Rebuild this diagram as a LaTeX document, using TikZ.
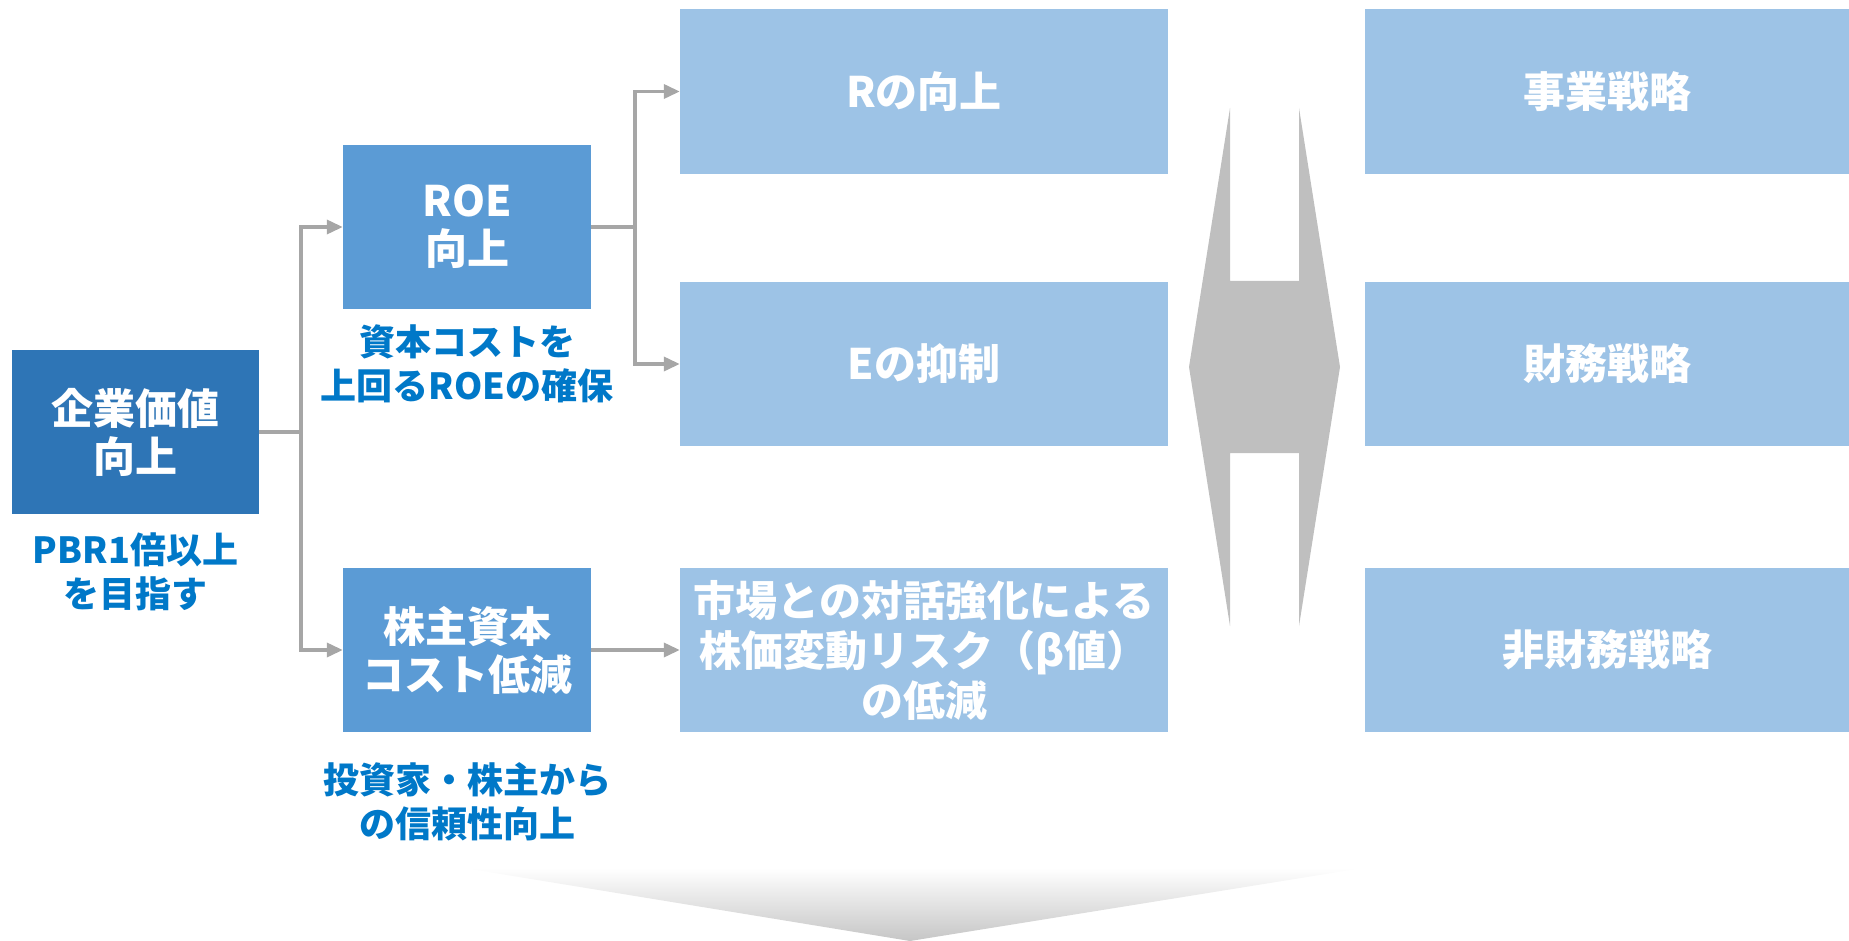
\documentclass[tikz,border=0pt]{standalone}
\usepackage{fontspec}
\setmainfont{Noto Sans CJK JP}
\usepackage{tikz}
\usetikzlibrary{arrows.meta}

\definecolor{topblue}{HTML}{2E75B6}
\definecolor{midblue}{HTML}{5B9BD5}
\definecolor{paleblue}{HTML}{9DC3E6}
\definecolor{notetext}{HTML}{0078C8}
\definecolor{linegray}{HTML}{A6A6A6}
\definecolor{shapegray}{HTML}{BFBFBF}

\begin{document}
\begin{tikzpicture}[x=1pt, y=-1pt,
    box/.style={inner sep=0pt, align=center, text=white,
      font=\bfseries\fontsize{42}{48}\selectfont},
    note/.style={inner sep=0pt, align=center, text=notetext,
      font=\bfseries\fontsize{36}{44}\selectfont},
    conn/.style={draw=linegray, line width=3.5pt},
    tip/.style={-{Triangle[length=16pt, width=14pt]}}]
    \useasboundingbox (0, 0) rectangle (1849, 941);
    % level 0
    \node [box, fill=topblue, minimum width=247pt, minimum height=164pt]  (value) at (135.5, 432) {企業価値\\向上};
    \node [note]  (valuenote) at (135.5, 572) {PBR1倍以上\\を目指す};
    % level 1
    \node [box, fill=midblue, minimum width=248pt, minimum height=164pt]  (roe) at (467, 227) {ROE\\向上};
    \node [note]  (roenote) at (467, 364) {資本コストを\\上回るROEの確保};
    \node [box, fill=midblue, minimum width=248pt, minimum height=164pt]  (coe) at (467, 650) {株主資本\\コスト低減};
    \node [note]  (coenote) at (467, 802) {投資家・株主から\\の信頼性向上};
    % level 2
    \node [box, fill=paleblue, minimum width=488pt, minimum height=165pt]  (rup) at (924, 91.5) {Rの向上};
    \node [box, fill=paleblue, minimum width=488pt, minimum height=164pt]  (edown) at (924, 364) {Eの抑制};
    \node [box, fill=paleblue, minimum width=488pt, minimum height=164pt,
      font=\bfseries\fontsize{42}{50}\selectfont]  (beta) at (924, 650) {市場との対話強化による\\株価変動リスク（β値）\\の低減};
    % strategies
    \node [box, fill=paleblue, minimum width=484pt, minimum height=165pt]  (biz) at (1607, 91.5) {事業戦略};
    \node [box, fill=paleblue, minimum width=484pt, minimum height=164pt]  (fin) at (1607, 364) {財務戦略};
    \node [box, fill=paleblue, minimum width=484pt, minimum height=164pt]  (nonfin) at (1607, 650) {非財務戦略};
    % connectors
    \draw [conn]       (value.east) -- ++(42, 0) coordinate (fork0);
    \draw [conn, tip]  (fork0) |- (roe.west);
    \draw [conn, tip]  (fork0) |- (coe.west);
    \draw [conn]       (roe.east) -- ++(44, 0) coordinate (fork1);
    \draw [conn, tip]  (fork1) |- (rup.west);
    \draw [conn, tip]  (fork1) |- (edown.west);
    \draw [conn, tip]  (coe.east) -- (beta.west);
    % double arrow
    \fill [shapegray] (1230, 108) -- (1189, 367) -- (1230, 626) -- (1230, 453) -- (1299, 453)
      -- (1299, 626) -- (1340, 367) -- (1299, 108) -- (1299, 281) -- (1230, 281) -- cycle;
    % bottom chevron
    \shade [top color=white, bottom color=gray!45] (464, 868) -- (1363, 868) -- (910, 941) -- cycle;
\end{tikzpicture}
\end{document}
